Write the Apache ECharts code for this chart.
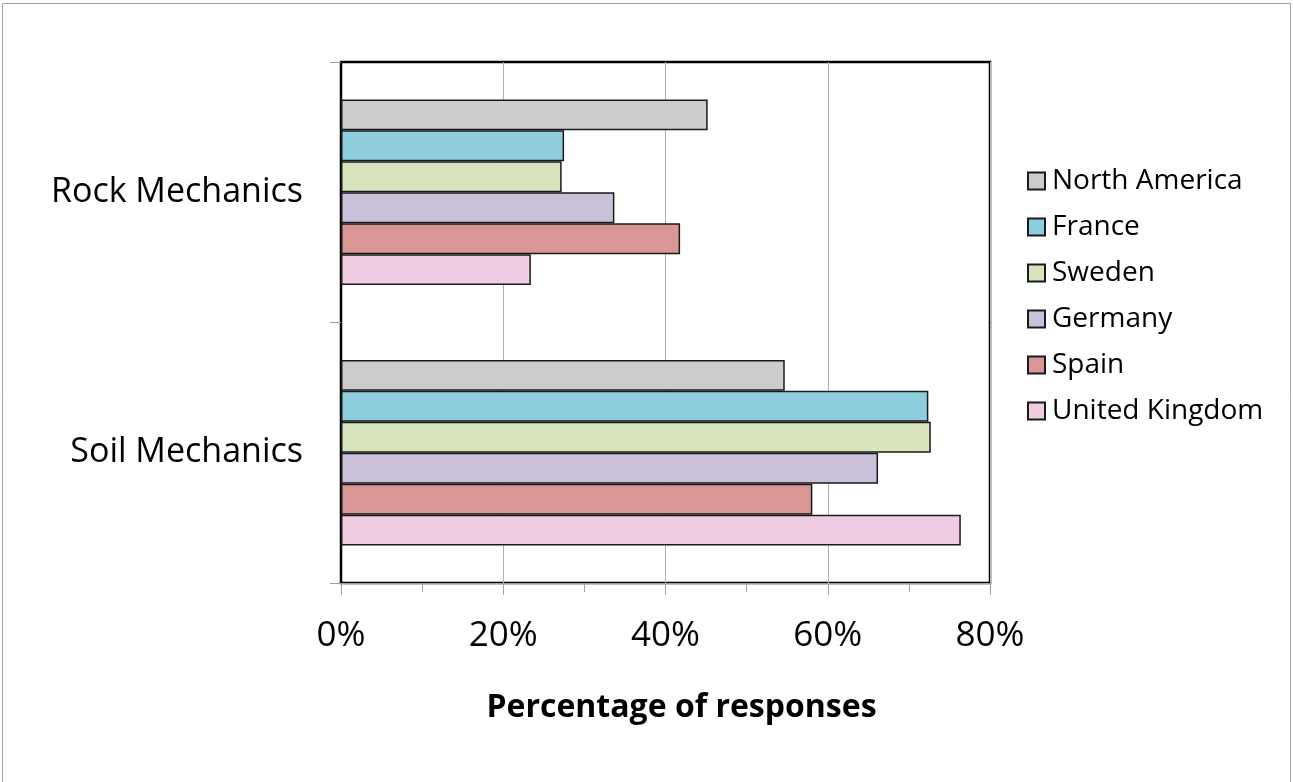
<!DOCTYPE html>
<html>
<head>
<meta charset="utf-8">
<script src="https://cdn.jsdelivr.net/npm/echarts@6/dist/echarts.min.js"></script>
<style>
  html, body { margin: 0; padding: 0; background: #fff; }
  #chart { width: 1293px; height: 782px; }
</style>
</head>
<body>
<div id="chart"></div>
<script>
// Survey topics (top to bottom)
const categories = ['Rock Mechanics', 'Soil Mechanics'];

// Share of responses per region, in percent: [Rock Mechanics, Soil Mechanics]
const northAmerica  = [45.2, 54.7];
const france        = [27.5, 72.4];
const sweden        = [27.2, 72.7];
const germany       = [33.7, 66.2];
const spain         = [41.8, 58.1];
const unitedKingdom = [23.4, 76.4];

const xTicks = [0, 20, 40, 60, 80];

const regions = [
  { name: 'North America',  data: northAmerica,  color: '#CCCCCC' },
  { name: 'France',         data: france,        color: '#8ECDDE' },
  { name: 'Sweden',         data: sweden,        color: '#D7E4BD' },
  { name: 'Germany',        data: germany,       color: '#CBC0DA' },
  { name: 'Spain',          data: spain,         color: '#D99694' },
  { name: 'United Kingdom', data: unitedKingdom, color: '#F0CDE3' }
];

const FONT = '"Open Sans", "Noto Sans", sans-serif';

const chart = echarts.init(document.getElementById('chart'), null, { renderer: 'canvas' });

chart.setOption({
  animation: false,
  backgroundColor: '#fff',
  textStyle: { fontFamily: FONT, color: '#000' },
  graphic: [{
    type: 'rect',
    shape: { x: 2.5, y: 3.5, width: 1288, height: 820 },
    style: { fill: 'none', stroke: '#A6A6A6', lineWidth: 1 },
    silent: true
  }],
  grid: {
    left: 341, right: 303, top: 62, bottom: 199,
    show: true, borderColor: '#000', borderWidth: 2.5,
    containLabel: false
  },
  legend: {
    orient: 'vertical',
    left: 1027, top: 166,
    padding: 0,
    itemWidth: 17, itemHeight: 17,
    itemGap: 16,
    icon: 'rect',
    textStyle: { fontFamily: FONT, fontSize: 28, color: '#000', lineHeight: 30, padding: [0, 0, 0, 2] },
    data: regions.map(r => r.name)
  },
  xAxis: {
    type: 'value',
    min: xTicks[0], max: xTicks[xTicks.length - 1], interval: 20,
    name: 'Percentage of responses',
    nameLocation: 'middle', nameGap: 109,
    nameTextStyle: { fontFamily: FONT, fontSize: 32, fontWeight: 'bold', color: '#000', padding: [0, 0, 0, 32] },
    axisLine: { show: true, lineStyle: { color: '#A0A0A0', width: 1 } },
    axisTick: { show: true, length: 12, lineStyle: { color: '#A0A0A0' } },
    minorTick: { show: true, splitNumber: 2, length: 9, lineStyle: { color: '#A0A0A0' } },
    axisLabel: { formatter: '{value}%', fontSize: 35, color: '#000', margin: 36, fontFamily: FONT },
    splitLine: { show: true, lineStyle: { color: '#B0B0B0', width: 1 } }
  },
  yAxis: {
    type: 'category',
    data: categories,
    inverse: true,
    axisLine: { show: true, lineStyle: { color: '#000', width: 2 } },
    axisTick: { show: true, length: 11, lineStyle: { color: '#A0A0A0' } },
    axisLabel: { fontSize: 34, color: '#000', margin: 38, fontFamily: FONT },
    splitLine: { show: false }
  },
  series: regions.map(r => ({
    name: r.name,
    type: 'bar',
    data: r.data,
    barGap: '0%',
    barCategoryGap: '28.7%',
    itemStyle: { color: r.color, borderColor: '#1a1a1a', borderWidth: 1.5 }
  }))
});
</script>
</body>
</html>
